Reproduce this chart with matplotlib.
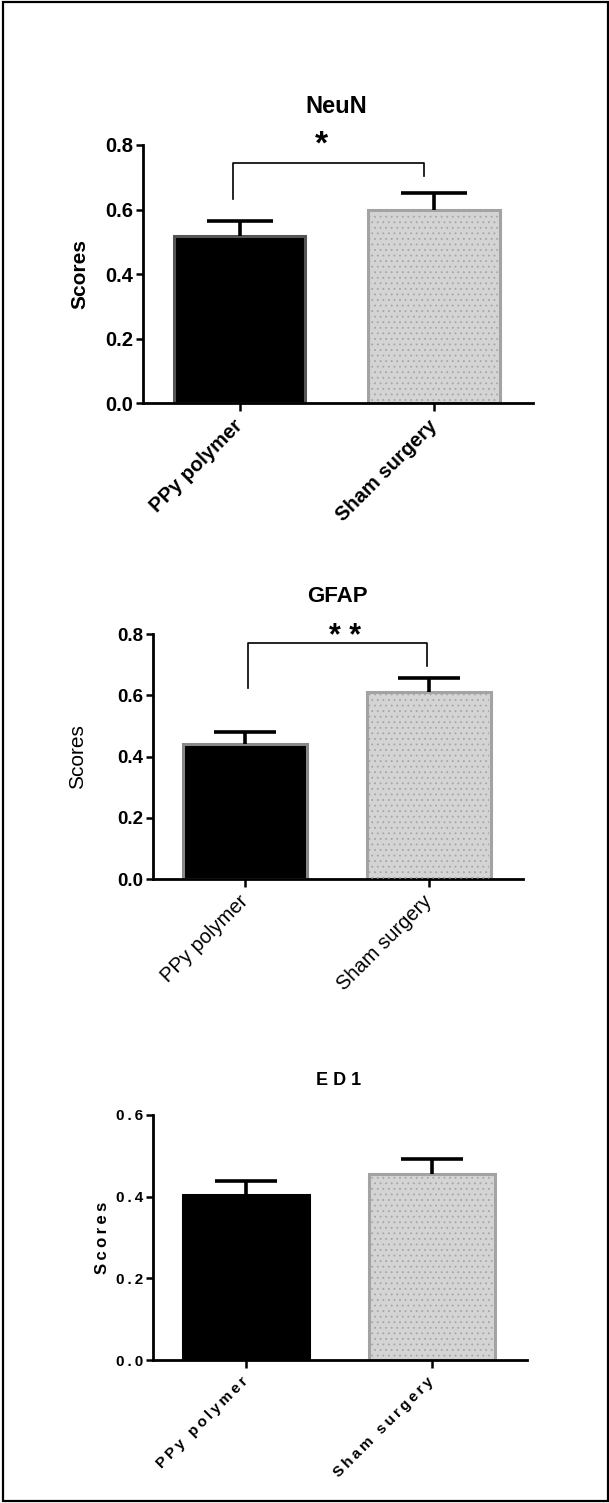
import matplotlib
matplotlib.use("Agg")
import matplotlib.pyplot as plt
import numpy as np
from matplotlib.patches import Rectangle

# ---------------- data ----------------
groups = ["PPy polymer", "Sham surgery"]
neun_means = [0.519, 0.598]
neun_sem = [0.045, 0.054]
gfap_means = [0.440, 0.612]
gfap_sem = [0.040, 0.044]
ed1_means = [0.404, 0.455]
ed1_sem = [0.034, 0.038]
neun_ticks = [0.0, 0.2, 0.4, 0.6, 0.8]
gfap_ticks = [0.0, 0.2, 0.4, 0.6, 0.8]
ed1_ticks = [0.0, 0.2, 0.4, 0.6]

W, H = 609, 1503
fig = plt.figure(figsize=(W / 100, H / 100), dpi=100)
FAM = ["Liberation Sans", "DejaVu Sans"]
plt.rcParams["font.family"] = FAM
plt.rcParams["hatch.linewidth"] = 0.6

GRAY_FILL = "#d4d4d4"
GRAY_EDGE = "#a3a3a3"
DOT = "#a6a6a6"


def px_axes(x0, x1, ytop, ybot):
    return fig.add_axes([x0 / W, 1 - ybot / H, (x1 - x0) / W, (ybot - ytop) / H])


def spaced(s, sep="\u2009"):
    return sep.join(list(s))


def panel(ax, means, sems, ticks, black_edge, capsize, title, tfs, tweight,
          tick_fs, tick_w, xl_fs, xl_w, yl_fs, yl_w, ylab_x, title_dy,
          letter_space=False):
    xs = [0, 1]
    w = 0.675
    ax.bar(xs[0], means[0], width=w, color="black", edgecolor=black_edge,
           linewidth=2.2, zorder=2)
    ax.bar(xs[1], means[1], width=w, color=GRAY_FILL, edgecolor=GRAY_EDGE,
           linewidth=2.2, zorder=2)
    ax.bar(xs[1], means[1], width=w - 0.02, color="none", edgecolor=DOT,
           linewidth=0, hatch="...", zorder=3)
    eb = ax.errorbar(xs, means, yerr=[[0, 0], sems], fmt="none", ecolor="black",
                     elinewidth=2.6, capsize=capsize, capthick=2.6, zorder=4)
    for cap in eb[1]:
        if np.allclose(cap.get_ydata(), means):
            cap.set_visible(False)
    ax.set_xlim(-0.5, 1.51)
    ax.set_ylim(0, ticks[-1])
    ax.set_yticks(ticks)
    if letter_space:
        ylabels = [spaced(f"{t:.1f}") for t in ticks]
        xlabels = [spaced(g) for g in groups]
    else:
        ylabels = [f"{t:.1f}" for t in ticks]
        xlabels = groups
    ax.set_yticklabels(ylabels, fontsize=tick_fs, fontweight=tick_w, family=FAM)
    ax.set_xticks(xs)
    ax.set_xticklabels(xlabels, fontsize=xl_fs, fontweight=xl_w, rotation=45,
                       ha="right", va="center", rotation_mode="anchor", family=FAM)
    for s in ["top", "right"]:
        ax.spines[s].set_visible(False)
    for s in ["left", "bottom"]:
        ax.spines[s].set_linewidth(2.0)
    ax.tick_params(axis="y", length=5, width=1.8, pad=2)
    ax.tick_params(axis="x", length=6, width=1.8, pad=8)
    ylab = spaced("Scores") if letter_space else "Scores"
    ax.set_ylabel(ylab, fontsize=yl_fs, fontweight=yl_w, va="center", family=FAM)
    ax.yaxis.set_label_coords(ylab_x, 0.5)
    ttl = spaced(title, " ") if letter_space else title
    ax.text(0.497, 1 + title_dy, ttl, transform=ax.transAxes, ha="center",
            va="center", fontsize=tfs, fontweight=tweight, family=FAM)
    ax.patch.set_alpha(0)


# Panel 1: NeuN
ax1 = px_axes(142.7, 533, 145, 403.3)
panel(ax1, neun_means, neun_sem, neun_ticks, "#555555", 23.5, "NeuN", 17, "bold",
      14.5, "bold", 14.5, "bold", 15, "bold", -0.162, 38.3 / 258.3)
ax1.plot([-0.035, -0.035, 0.95, 0.95], [0.632, 0.745, 0.745, 0.704],
         color="black", lw=1.2, clip_on=False, zorder=5)
ax1.text(0.42, 0.80, "*", ha="center", va="center", fontsize=24,
         fontweight="bold", clip_on=False)

# Panel 2: GFAP
ax2 = px_axes(153.3, 523, 634, 879)
panel(ax2, gfap_means, gfap_sem, gfap_ticks, "#888888", 22, "GFAP", 16, "bold",
      13.5, "bold", 14.5, "normal", 15, "normal", -0.206, 37.3 / 245)
ax2.plot([0.014, 0.014, 0.986, 0.986], [0.625, 0.77, 0.77, 0.696],
         color="black", lw=1.2, clip_on=False, zorder=5)
ax2.text(0.54, 0.79, "* *", ha="center", va="center", fontsize=22,
         fontweight="bold", clip_on=False)

# Panel 3: ED1
ax3 = px_axes(153.3, 526.7, 1115, 1360)
panel(ax3, ed1_means, ed1_sem, ed1_ticks, "black", 22, "ED1", 13, "bold",
      11, "bold", 11, "bold", 12, "bold", -0.137, 34.3 / 245,
      letter_space=True)

# outer frame
fig.patches.append(Rectangle((2.5 / W, 2.5 / H), 605 / W, 1498.5 / H,
                             transform=fig.transFigure, fill=False,
                             edgecolor="black", linewidth=1.6))

fig.savefig("out.png", dpi=100)
